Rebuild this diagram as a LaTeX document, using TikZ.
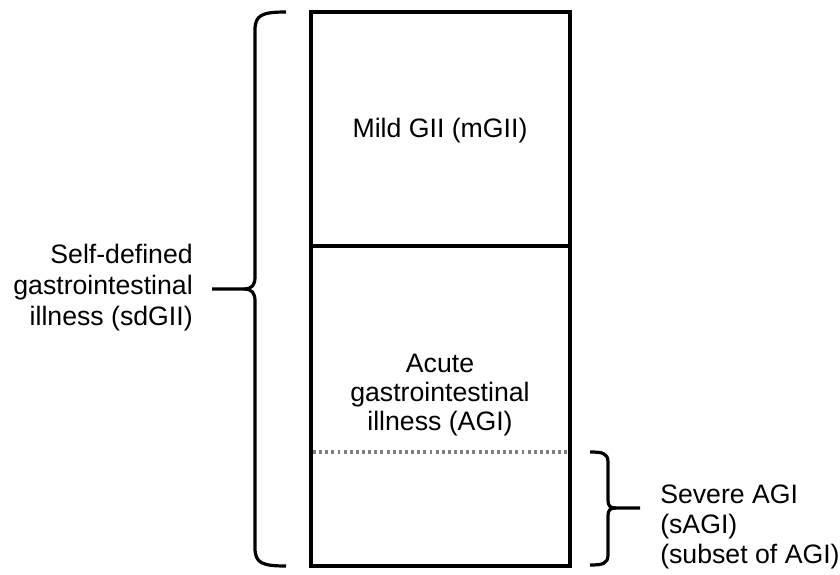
\documentclass[tikz,border=0pt]{standalone}
\usepackage{fontspec}
\setmainfont{Liberation Sans}
\begin{document}
\begin{tikzpicture}[x=0.75pt,y=-0.75pt,
  lbl/.style={inner sep=0pt,font=\fontsize{20}{22}\selectfont},
  frame/.style={line width=2.4pt,black},
  brc/.style={line width=2.4pt,black,line join=round},
  dotline/.style={line width=2.4pt,black!50,dash pattern=on 2.2pt off 2.4pt}]
\useasboundingbox (0,0) rectangle (840,575);
% box
\coordinate (tl) at (311,12);
\coordinate (br) at (570,566);
\draw[frame] (tl) rectangle (br);
\coordinate (dl) at (311,246);
\coordinate (dr) at (570,246);
\draw[frame] (dl) -- (dr);
\coordinate (sl) at (313,452);
\coordinate (sr) at (568,452);
\draw[dotline] (sl) -- (sr);
% texts
\node[lbl] (mild) at (440,131) {Mild GII (mGII)};
\node[lbl,align=center,font=\fontsize{20}{21.5}\selectfont] (agi) at (440,395) {Acute\\gastrointestinal\\illness (AGI)};
\node[lbl,align=right,anchor=east,font=\fontsize{20}{23.2}\selectfont] (sd) at (193,288) {Self-defined\\gastrointestinal\\illness (sdGII)};
\node[lbl,align=left,anchor=west,font=\fontsize{20}{22.3}\selectfont] (sev) at (660,527) {Severe AGI\\(sAGI)\\(subset of AGI)};
% big brace
\coordinate (bt) at (286,12);
\coordinate (bb) at (286,566);
\coordinate (btip) at (212,289);
\draw[brc] (bt) .. controls (262,12) and (255,15) .. (255,30) -- (255,277)
  .. controls (255,285) and (252,289) .. (244,289) -- (btip);
\draw[brc] (bb) .. controls (262,566) and (255,563) .. (255,548) -- (255,301)
  .. controls (255,293) and (252,289) .. (244,289);
% small brace
\coordinate (st) at (590,452);
\coordinate (sb) at (590,565);
\coordinate (stip) at (640,508);
\draw[brc] (st) .. controls (602,452) and (608,453) .. (608,462) -- (608,500)
  .. controls (608,506) and (610,508) .. (616,508) -- (stip);
\draw[brc] (sb) .. controls (602,565) and (608,564) .. (608,555) -- (608,516)
  .. controls (608,510) and (610,508) .. (616,508);
\end{tikzpicture}
\end{document}
